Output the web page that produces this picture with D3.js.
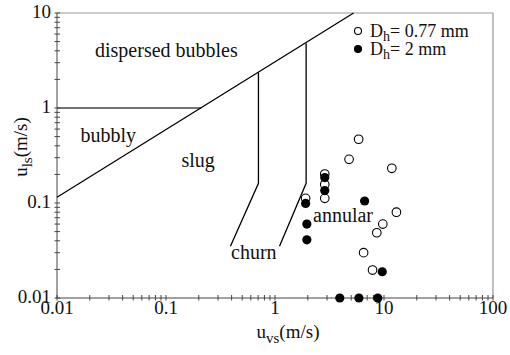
<!DOCTYPE html>
<html><head><meta charset="utf-8">
<script src="https://cdn.jsdelivr.net/npm/d3@7"></script>
<style>body{margin:0;background:#fff}text{fill:#111}</style>
</head><body><svg id="c" width="510" height="355" font-family="'Liberation Serif','Times New Roman',Times,serif"></svg>
<script>
// data
const openPts = [[5.85,0.469],[4.78,0.288],[11.8,0.232],[2.86,0.202],[2.86,0.157],[2.86,0.112],[1.91,0.112],[13.0,0.080],[9.75,0.060],[8.59,0.0486],[6.50,0.030],[7.85,0.0197]];
const filledPts = [[2.86,0.185],[2.86,0.135],[1.91,0.099],[6.64,0.105],[1.96,0.060],[1.96,0.041],[9.64,0.0189],[3.93,0.01],[5.89,0.01],[8.77,0.01]];
const bubblyLine = [[0.01,1],[0.21,1]];
const diagLine = [[0.01,0.115],[5.26,10]];
const churnLeft = [[0.705,2.36],[0.705,0.161],[0.39,0.035]];
const churnRight = [[1.93,4.8],[1.93,0.161],[1.1,0.035]];
const xTicks = [0.01,0.1,1,10,100];
const yTicks = [0.01,0.1,1,10];
const labels = [["dispersed bubbles",95,57],["bubbly",80.5,141.5],["slug",181.5,166.5],["churn",231,259],["annular",313,221.5]];
const legend = [["0.77 mm",false],["2 mm",true]];

const svg = d3.select("#c");
const L=57,R=493,T=13,B=298;
const x = d3.scaleLog().domain([0.01,100]).range([L,R]);
const y = d3.scaleLog().domain([0.01,10]).range([B,T]);

// frame top/right
svg.append("line").attr("x1",L).attr("x2",R).attr("y1",T).attr("y2",T).attr("stroke","#999");
svg.append("line").attr("x1",R).attr("x2",R).attr("y1",T).attr("y2",B).attr("stroke","#aaa").attr("stroke-width",1.5);

const minor = [];
for (let d=-2; d<2; d++) for (let k=1;k<10;k++) minor.push(k*Math.pow(10,d));
minor.push(100);
const minorY = minor.filter(v=>v<=10.0001);

// x axis
const gx = svg.append("g").attr("transform",`translate(0,${B})`);
gx.append("line").attr("x1",L).attr("x2",R).attr("stroke","#444");
gx.selectAll("line.t").data(minor).join("line").attr("class","t")
  .attr("x1",d=>x(d)).attr("x2",d=>x(d)).attr("y1",-3).attr("y2",2.5).attr("stroke","#444");
gx.selectAll("text").data(xTicks).join("text").attr("x",d=>x(d)).attr("y",16)
  .attr("text-anchor","middle").attr("font-size",19).text(d=>String(d));

// y axis
const gy = svg.append("g").attr("transform",`translate(${L},0)`);
gy.append("line").attr("y1",T).attr("y2",B).attr("stroke","#444");
gy.selectAll("line.t").data(minorY).join("line").attr("class","t")
  .attr("y1",d=>y(d)).attr("y2",d=>y(d)).attr("x1",-2.5).attr("x2",3).attr("stroke","#444");
gy.selectAll("text").data(yTicks).join("text").attr("x",-6).attr("y",d=>y(d)+5)
  .attr("text-anchor","end").attr("font-size",19).text(d=>String(d));

// axis titles
const xt = svg.append("text").attr("x",288).attr("y",338).attr("text-anchor","middle").attr("font-size",19);
xt.append("tspan").text("u");
xt.append("tspan").attr("dy",5).attr("font-size",15).text("vs");
xt.append("tspan").attr("dy",-5).text("(m/s)");
const yt = svg.append("text").attr("transform","translate(27,147) rotate(-90)").attr("text-anchor","middle").attr("font-size",19);
yt.append("tspan").text("u");
yt.append("tspan").attr("dy",5).attr("font-size",15).text("ls");
yt.append("tspan").attr("dy",-5).text("(m/s)");

// boundaries
const line = d3.line().x(d=>x(d[0])).y(d=>y(d[1]));
svg.append("path").attr("d",line(bubblyLine)).attr("fill","none").attr("stroke","#444").attr("stroke-width",1.6);
[diagLine,churnLeft,churnRight].forEach(p=>svg.append("path").attr("d",line(p)).attr("fill","none").attr("stroke","#000").attr("stroke-width",1.3));

// region labels
labels.forEach(l=>svg.append("text").attr("x",l[1]).attr("y",l[2]).attr("font-size",20).text(l[0]));

// points
svg.selectAll("circle.o").data(openPts).join("circle").attr("class","o")
  .attr("cx",d=>x(d[0])).attr("cy",d=>y(d[1])).attr("r",4.3).attr("fill","#fff").attr("stroke","#000").attr("stroke-width",1.1);
svg.selectAll("circle.f").data(filledPts).join("circle").attr("class","f")
  .attr("cx",d=>x(d[0])).attr("cy",d=>y(d[1])).attr("r",4.6).attr("fill","#000");

// legend
legend.forEach((l,i)=>{
  const yy = 31 + i*18;
  svg.append("circle").attr("cx",358).attr("cy",yy).attr("r",3.5)
    .attr("fill",l[1]?"#000":"#fff").attr("stroke","#000").attr("stroke-width",1.1);
  const t = svg.append("text").attr("x",370).attr("y",yy+5.5).attr("font-size",18);
  t.append("tspan").text("D");
  t.append("tspan").attr("dy",4).attr("font-size",14).text("h");
  t.append("tspan").attr("dy",-4).text("= "+l[0]);
});
</script></body></html>
